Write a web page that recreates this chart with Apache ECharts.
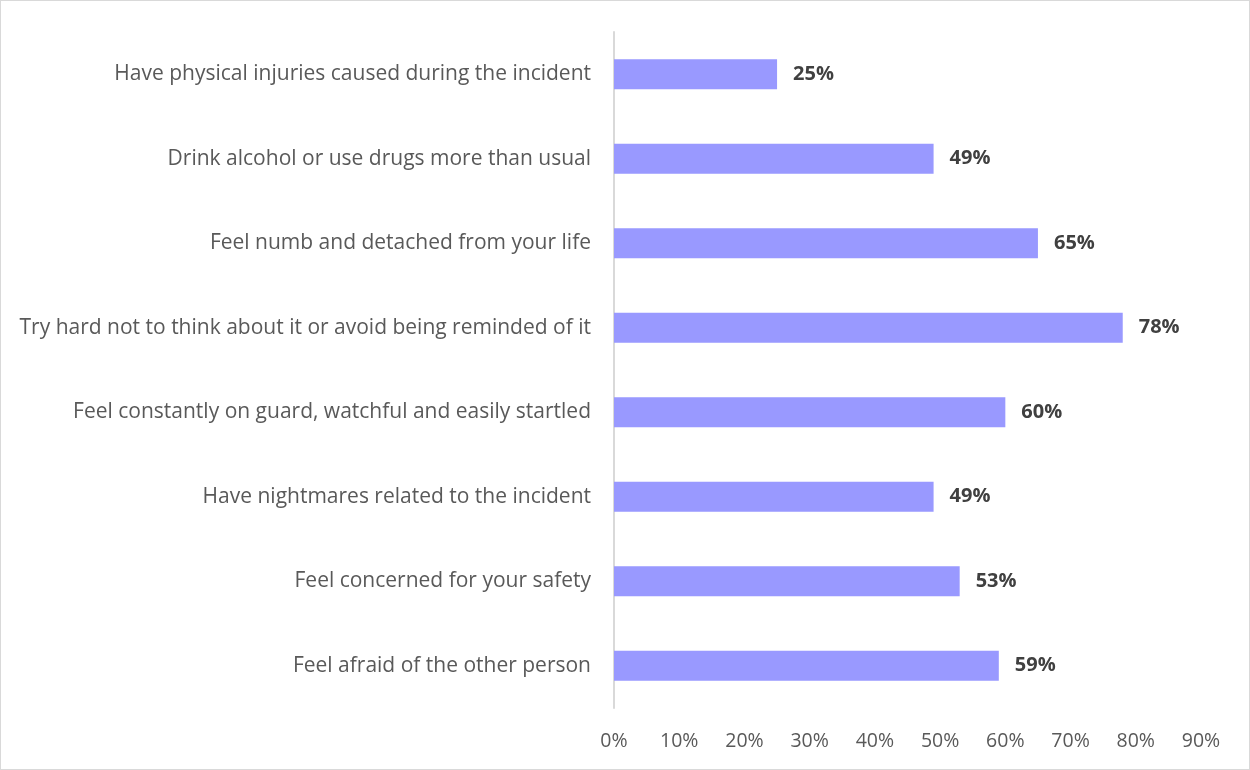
<!DOCTYPE html>
<html><head><meta charset="utf-8">
<script src="https://cdn.jsdelivr.net/npm/echarts@6/dist/echarts.min.js"></script>
<style>html,body{margin:0;padding:0;background:#fff}#c{width:1250px;height:770px;box-sizing:border-box;border:1px solid #d9d9d9}</style>
</head><body><div id="c"></div>
<script>
const categories = [
  "Have physical injuries caused during the incident",
  "Drink alcohol or use drugs more than usual",
  "Feel numb and detached from your life",
  "Try hard not to think about it or avoid being reminded of it",
  "Feel constantly on guard, watchful and easily startled",
  "Have nightmares related to the incident",
  "Feel concerned for your safety",
  "Feel afraid of the other person"
];
const values = [25, 49, 65, 78, 60, 49, 53, 59];
const tickMax = 90;
const tickStep = 10;

const chart = echarts.init(document.getElementById('c'), null, {renderer:'canvas'});
const font = '"Open Sans", "Noto Sans", sans-serif';
chart.setOption({
  animation: false,
  grid: {left: 613, right: 48, top: 31, bottom: 61, containLabel: false},
  xAxis: {
    type: 'value', min: 0, max: tickMax, interval: tickStep,
    axisLine: {show: false}, axisTick: {show: false}, splitLine: {show: false},
    axisLabel: {formatter: v => v + '%', color: '#595959', fontSize: 19.5, fontFamily: font, margin: 23}
  },
  yAxis: {
    type: 'category', data: categories, inverse: true,
    axisLine: {show: true, lineStyle: {color: '#d9d9d9', width: 2}},
    axisTick: {show: false},
    axisLabel: {color: '#595959', fontSize: 21, fontFamily: font, margin: 23}
  },
  series: [{
    type: 'bar', data: values, barWidth: 30,
    itemStyle: {color: '#9999ff'},
    label: {show: true, position: 'right', distance: 16, formatter: p => p.value + '%',
      color: '#404040', fontWeight: 'bold', fontSize: 20, fontFamily: font}
  }]
});
</script></body></html>
